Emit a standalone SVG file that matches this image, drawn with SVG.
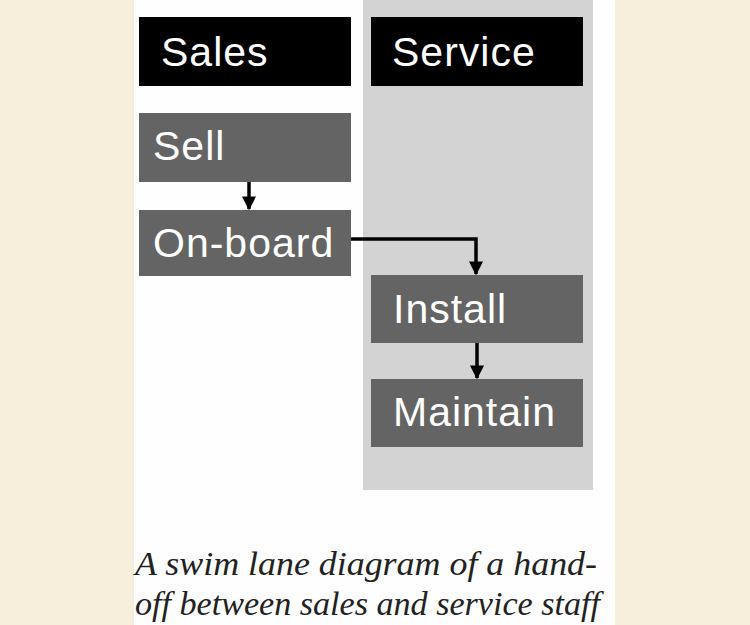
<svg xmlns="http://www.w3.org/2000/svg" width="750" height="625" viewBox="0 0 750 625">
<style>
.hdr{fill:#000}
.node{fill:#646464}
.lbl{font-family:"Liberation Sans",Arial,sans-serif;font-size:41px;letter-spacing:1px;fill:#fff}
.cap{font-family:"Liberation Serif","Times New Roman",serif;font-style:italic;font-size:33px;fill:#222}
.conn{fill:none;stroke:#000;stroke-width:3.5}
</style>
<defs>
<marker id="ah" viewBox="0 0 10 10" refX="9" refY="5" markerWidth="4" markerHeight="4" orient="auto" markerUnits="strokeWidth">
<path d="M0,0 L10,5 L0,10 z" fill="#000"/>
</marker>
</defs>
<rect x="0" y="0" width="750" height="625" fill="#f7eedb"/>
<rect x="134" y="0" width="481" height="625" fill="#fefefe"/>
<rect id="lane-service" x="363" y="0" width="230" height="490" fill="#d3d3d3"/>
<g id="hdr-sales"><rect class="hdr" x="139" y="17" width="212" height="69"/><text class="lbl" x="161" y="66">Sales</text></g>
<g id="hdr-service"><rect class="hdr" x="371" y="17" width="212" height="69"/><text class="lbl" x="392" y="66">Service</text></g>
<g id="sell"><rect class="node" x="139" y="113" width="212" height="69"/><text class="lbl" x="153" y="160">Sell</text></g>
<g id="onboard"><rect class="node" x="139" y="210" width="212" height="66"/><text class="lbl" x="153" y="257">On-board</text></g>
<g id="install"><rect class="node" x="371" y="275" width="212" height="68"/><text class="lbl" x="393" y="323">Install</text></g>
<g id="maintain"><rect class="node" x="371" y="379" width="212" height="68"/><text class="lbl" x="393" y="426">Maintain</text></g>
<g id="connectors">
<path class="conn" d="M249,182 V209" marker-end="url(#ah)"/>
<path class="conn" d="M351,239 H476 V274" marker-end="url(#ah)"/>
<path class="conn" d="M477,343 V378" marker-end="url(#ah)"/>
</g>
<text class="cap" x="135" y="575" textLength="462" lengthAdjust="spacingAndGlyphs">A swim lane diagram of a hand-</text>
<text class="cap" x="135" y="615" textLength="465" lengthAdjust="spacingAndGlyphs">off between sales and service staff</text>
</svg>
